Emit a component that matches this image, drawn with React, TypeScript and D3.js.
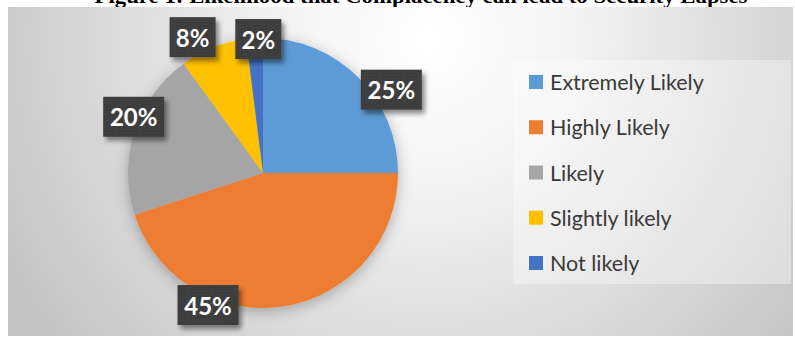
import React from 'react';
import * as d3 from 'd3';

const title = 'Figure 1: Likelihood that Complacency can lead to Security Lapses';
const categories = ['Extremely Likely', 'Highly Likely', 'Likely', 'Slightly likely', 'Not likely'];
const values = [25, 45, 20, 8, 2];
const labels = ['25%', '45%', '20%', '8%', '2%'];
const colors = ['#5B9BD5', '#ED7D31', '#A5A5A5', '#FFC000', '#4472C4'];
// label placement: degrees clockwise from 12 o'clock, distance from centre
const labelAngles = [57, 202.6, 293.5, 332.6, 358];
const labelRadii = [153, 143, 141, 153, 134];

const W = 795;
const H = 338;
const cx = 263;
const cy = 173;
const R = 135;

export default function App() {
  const pie = d3.pie<number>().sort(null).value((d) => d);
  const arcs = pie(values);
  const arc = d3.arc<d3.PieArcDatum<number>>().innerRadius(0).outerRadius(R);
  const legendY = d3.scalePoint<string>().domain(categories).range([82, 263]);

  return (
    <svg width={W} height={H} style={{ position: 'absolute', left: 0, top: 0 }}>
      <defs>
        <radialGradient id="bg" gradientUnits="userSpaceOnUse" cx={430} cy={40} r={480}>
          <stop offset="0" stopColor="#ffffff" />
          <stop offset="0.3" stopColor="#f3f3f3" />
          <stop offset="1" stopColor="#c4c4c4" />
        </radialGradient>
        <filter id="pieShadow" x="-30%" y="-30%" width="160%" height="160%">
          <feDropShadow dx="0" dy="3" stdDeviation="7" floodColor="#000" floodOpacity="0.28" />
        </filter>
        <filter id="boxShadow" x="-30%" y="-30%" width="170%" height="170%">
          <feDropShadow dx="3" dy="4" stdDeviation="2.5" floodColor="#000" floodOpacity="0.45" />
        </filter>
        <pattern id="dots" width="3" height="3" patternUnits="userSpaceOnUse">
          <rect width="3" height="3" fill="#3d3d3d" />
          <rect width="1" height="1" fill="#474747" />
        </pattern>
      </defs>
      <rect x={0} y={0} width={W} height={H} fill="#ffffff" />
      <text
        x={421}
        y={3}
        textAnchor="middle"
        fontFamily="Liberation Serif, serif"
        fontWeight="bold"
        fontSize={22}
        textLength={653}
        lengthAdjust="spacingAndGlyphs"
        fill="#000"
      >
        {title}
      </text>
      <rect x={8} y={7} width={785} height={329} fill="url(#bg)" />

      <g transform={`translate(${cx},${cy})`} filter="url(#pieShadow)">
        {arcs.map((a, i) => (
          <path key={i} d={arc(a) || ''} fill={colors[i]} />
        ))}
      </g>

      {arcs.map((a, i) => {
        const ang = (labelAngles[i] * Math.PI) / 180;
        const x = cx + labelRadii[i] * Math.sin(ang);
        const y = cy - labelRadii[i] * Math.cos(ang);
        const w = labels[i].length * 15 + 16;
        const h = 40;
        return (
          <g key={i}>
            <rect x={x - w / 2} y={y - h / 2} width={w} height={h} fill="url(#dots)" filter="url(#boxShadow)" />
            <text
              x={x}
              y={y}
              textAnchor="middle"
              dominantBaseline="central"
              fontFamily="Lato, sans-serif"
              fontWeight="bold"
              fontSize={24}
              fill="#ffffff"
            >
              {labels[i]}
            </text>
          </g>
        );
      })}

      <rect x={513} y={60} width={278} height={224} fill="#ffffff" fillOpacity={0.35} />
      {categories.map((c, i) => {
        const y = legendY(c) as number;
        return (
          <g key={c}>
            <rect x={529} y={y - 7} width={14} height={14} fill={colors[i]} />
            <text
              x={550}
              y={y}
              dominantBaseline="central"
              fontFamily="Lato, sans-serif"
              fontSize={21.5}
              fill="#3a3a3a"
            >
              {c}
            </text>
          </g>
        );
      })}
    </svg>
  );
}
